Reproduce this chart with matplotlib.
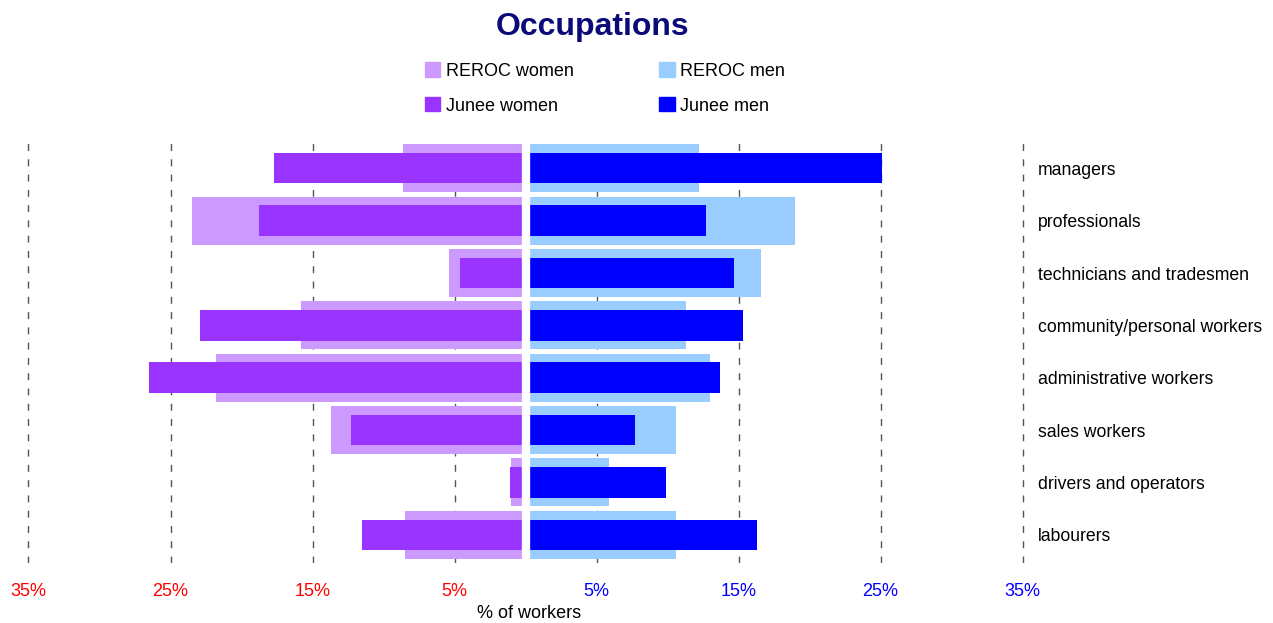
import matplotlib
matplotlib.use('Agg')
import matplotlib.pyplot as plt
from matplotlib.patches import Patch

categories = ['managers', 'professionals', 'technicians and tradesmen',
              'community/personal workers', 'administrative workers',
              'sales workers', 'drivers and operators', 'labourers']

# percentages of workers in each occupation
reroc_women = [8.6, 23.5, 5.4, 15.8, 21.8, 13.7, 1.0, 8.5]
junee_women = [17.7, 18.8, 4.6, 22.9, 26.5, 12.3, 1.1, 11.5]
reroc_men = [12.2, 19.0, 16.6, 11.3, 13.0, 10.6, 5.9, 10.6]
junee_men = [25.1, 12.7, 14.7, 15.3, 13.7, 7.7, 9.9, 16.3]

tick_values = [-35, -25, -15, -5, 5, 15, 25, 35]
tick_labels = ['35%', '25%', '15%', '5%', '5%', '15%', '25%', '35%']

plt.rcParams['font.family'] = ['Liberation Sans', 'DejaVu Sans']

W, H = 1273, 623
fig = plt.figure(figsize=(W / 100, H / 100), dpi=100)

# data -> pixel: zero at x=525.5, 14.2 px per percent
x0, ppu = 525.5, 14.2
xmin, xmax = -36.5, 52.0
ax_left = x0 + xmin * ppu
ax_right = x0 + xmax * ppu
ax_top, ax_bottom = 140, 563
ax = fig.add_axes([ax_left / W, 1 - ax_bottom / H,
                   (ax_right - ax_left) / W, (ax_bottom - ax_top) / H])

ypos = list(range(len(categories)))
c_rw, c_jw, c_rm, c_jm = '#cc99ff', '#9933ff', '#99ccff', '#0000ff'

for t in tick_values:
    ax.axvline(t, color='#555555', lw=1.0, ls=(0, (5, 6)), zorder=0)

ax.barh(ypos, [-v for v in reroc_women], height=0.92, color=c_rw, zorder=2)
ax.barh(ypos, [-v for v in junee_women], height=0.58, color=c_jw, zorder=3)
ax.barh(ypos, reroc_men, height=0.92, color=c_rm, zorder=2)
ax.barh(ypos, junee_men, height=0.58, color=c_jm, zorder=3)
ax.axvline(0, color='white', lw=6, zorder=4)

for y, name in zip(ypos, categories):
    ax.text(36.1, y + 0.04, name, fontsize=12.7, va='center', ha='left',
            color='black')

ax.set_xlim(xmin, xmax)
ax.set_ylim(len(categories) - 0.46, -0.54)
ax.set_yticks([])
ax.set_xticks([])
for s in ax.spines.values():
    s.set_visible(False)

for t, lab in zip(tick_values, tick_labels):
    fig.text((x0 + t * ppu) / W, 1 - 592 / H, lab, fontsize=13,
             color='red' if t < 0 else 'blue', ha='center', va='center')
fig.text(529 / W, 1 - 614 / H, '% of workers', fontsize=13,
         ha='center', va='center', color='black')

fig.text(593 / W, 1 - 27 / H, 'Occupations', fontsize=23, fontweight='bold',
         color='#0a0a78', ha='center', va='center')

handles = [Patch(color=c_rw, label='REROC women'),
           Patch(color=c_jw, label='Junee women'),
           Patch(color=c_rm, label='REROC men'),
           Patch(color=c_jm, label='Junee men')]
fig.legend(handles=handles, ncol=2, loc='center left',
           bbox_to_anchor=(425 / W, 1 - 88.5 / H), frameon=False,
           fontsize=13, handlelength=0.85, handleheight=0.85,
           handletextpad=0.3, columnspacing=4.75, labelspacing=0.95,
           borderpad=0, borderaxespad=0)

fig.savefig('out.png', dpi=100)
